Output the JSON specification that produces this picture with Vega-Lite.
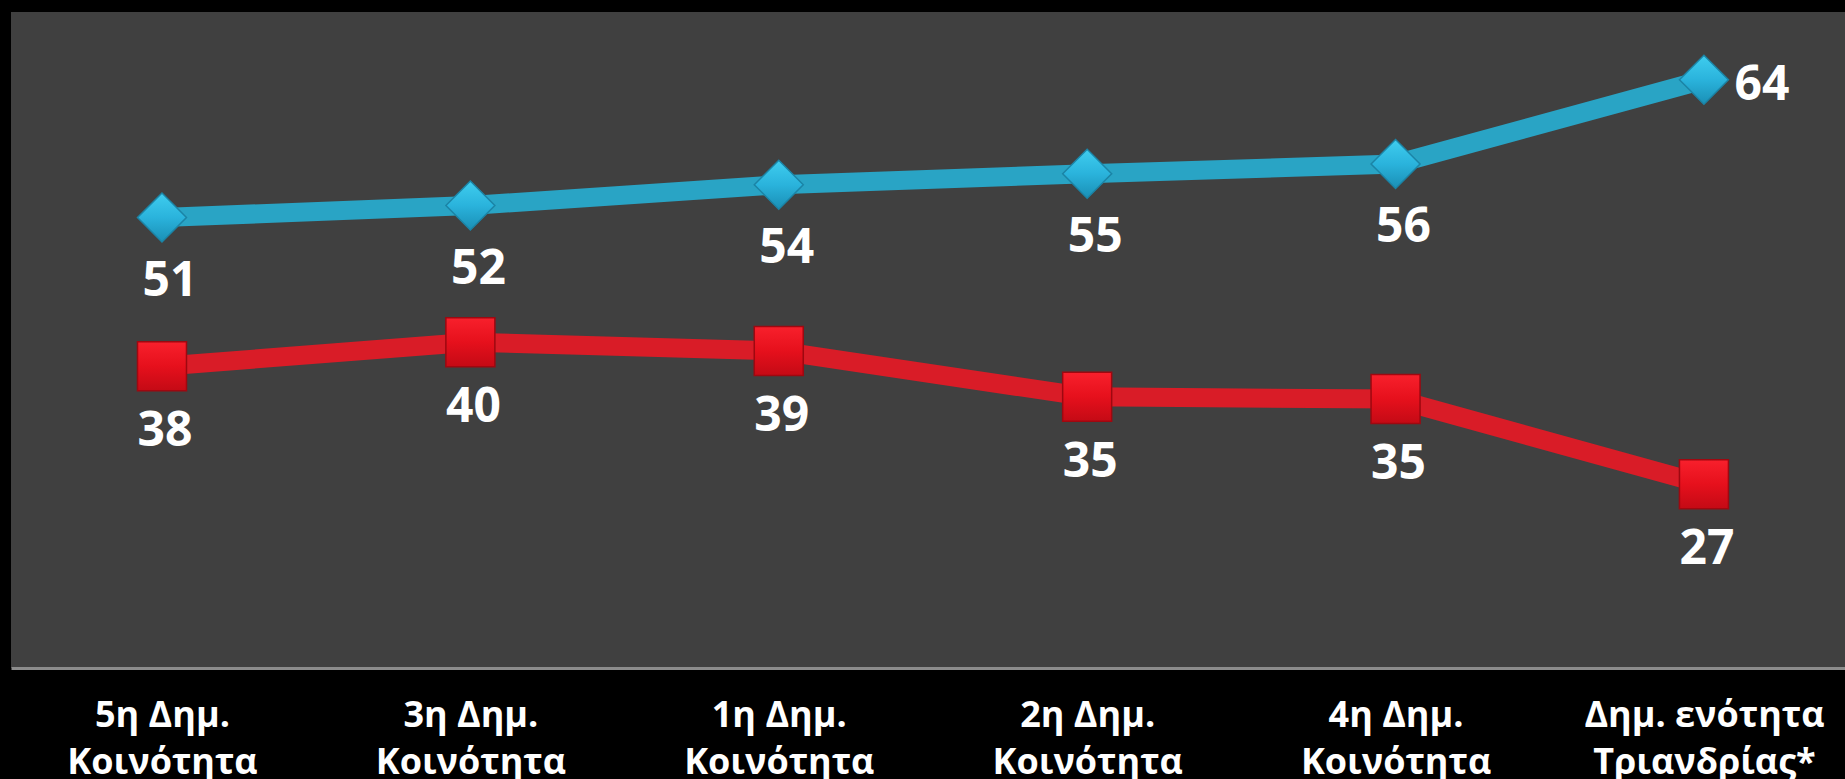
{
  "$schema": "https://vega.github.io/schema/vega-lite/v6.json",
  "width": 1834,
  "height": 656,
  "autosize": {"type": "none"},
  "padding": {"left": 11, "top": 12, "right": 0, "bottom": 111},
  "background": "#000000",
  "config": {
    "view": {"fill": "#404040", "stroke": null},
    "font": "Open Sans"
  },
  "data": {
    "values": [
      {"district": "5η Δημ.\nΚοινότητα", "series": "Σειρά 1", "value": 51.2},
      {"district": "3η Δημ.\nΚοινότητα", "series": "Σειρά 1", "value": 52.3},
      {"district": "1η Δημ.\nΚοινότητα", "series": "Σειρά 1", "value": 54.2},
      {"district": "2η Δημ.\nΚοινότητα", "series": "Σειρά 1", "value": 55.2},
      {"district": "4η Δημ.\nΚοινότητα", "series": "Σειρά 1", "value": 56.1},
      {"district": "Δημ. ενότητα\nΤριανδρίας*", "series": "Σειρά 1", "value": 63.8},
      {"district": "5η Δημ.\nΚοινότητα", "series": "Σειρά 2", "value": 37.6},
      {"district": "3η Δημ.\nΚοινότητα", "series": "Σειρά 2", "value": 39.8},
      {"district": "1η Δημ.\nΚοινότητα", "series": "Σειρά 2", "value": 39.0},
      {"district": "2η Δημ.\nΚοινότητα", "series": "Σειρά 2", "value": 34.8},
      {"district": "4η Δημ.\nΚοινότητα", "series": "Σειρά 2", "value": 34.6},
      {"district": "Δημ. ενότητα\nΤριανδρίας*", "series": "Σειρά 2", "value": 26.8}
    ]
  },
  "encoding": {
    "x": {
      "field": "district",
      "type": "nominal",
      "sort": null,
      "scale": {"type": "point", "padding": 0.4735, "align": 0.517},
      "axis": {
        "title": null,
        "labelAngle": 0,
        "labelExpr": "split(datum.label, '\\n')",
        "labelFont": "Open Sans",
        "labelFontSize": 36,
        "labelFontWeight": "bold",
        "labelColor": "#ffffff",
        "labelLineHeight": 47,
        "labelPadding": 30,
        "labelLimit": 400,
        "ticks": false,
        "grid": false,
        "domainColor": "#8c8c8c",
        "domainWidth": 3
      }
    },
    "y": {
      "field": "value",
      "type": "quantitative",
      "scale": {"domain": [10, 70], "zero": false, "nice": false},
      "axis": null
    }
  },
  "layer": [
    {
      "mark": {"type": "line", "strokeWidth": 19},
      "encoding": {
        "color": {
          "field": "series",
          "type": "nominal",
          "scale": {"domain": ["Σειρά 1", "Σειρά 2"], "range": ["#29A4C5", "#D91C27"]},
          "legend": null
        }
      }
    },
    {
      "transform": [{"filter": "datum.series == 'Σειρά 1'"}],
      "mark": {
        "type": "point",
        "shape": "diamond",
        "size": 2400,
        "filled": true,
        "opacity": 1,
        "fill": {
          "gradient": "linear", "x1": 0, "y1": 0, "x2": 0, "y2": 1,
          "stops": [
            {"offset": 0, "color": "#3FCDEF"},
            {"offset": 0.5, "color": "#2AB3DC"},
            {"offset": 1, "color": "#1A8FB5"}
          ]
        },
        "stroke": "#1B84A6",
        "strokeWidth": 1.5
      }
    },
    {
      "transform": [{"filter": "datum.series == 'Σειρά 2'"}],
      "mark": {
        "type": "point",
        "shape": "square",
        "size": 2400,
        "filled": true,
        "opacity": 1,
        "fill": {
          "gradient": "linear", "x1": 0, "y1": 0, "x2": 0, "y2": 1,
          "stops": [
            {"offset": 0, "color": "#F8202C"},
            {"offset": 0.5, "color": "#E6101C"},
            {"offset": 1, "color": "#C40A15"}
          ]
        },
        "stroke": "#9E0810",
        "strokeWidth": 1.5
      }
    },
    {
      "transform": [{"filter": "datum.series == 'Σειρά 1' && indexof(datum.district, 'Τριανδρίας') < 0"}],
      "mark": {"type": "text", "dy": 64, "dx": 8, "fontSize": 48, "fontWeight": "bold", "color": "#ffffff", "baseline": "middle"},
      "encoding": {"text": {"field": "value", "type": "quantitative", "format": ".0f"}}
    },
    {
      "transform": [{"filter": "datum.series == 'Σειρά 1' && indexof(datum.district, 'Τριανδρίας') >= 0"}],
      "mark": {"type": "text", "dy": 6, "dx": 58, "fontSize": 48, "fontWeight": "bold", "color": "#ffffff", "baseline": "middle"},
      "encoding": {"text": {"field": "value", "type": "quantitative", "format": ".0f"}}
    },
    {
      "transform": [{"filter": "datum.series == 'Σειρά 2'"}],
      "mark": {"type": "text", "dy": 66, "dx": 3, "fontSize": 48, "fontWeight": "bold", "color": "#ffffff", "baseline": "middle"},
      "encoding": {"text": {"field": "value", "type": "quantitative", "format": ".0f"}}
    }
  ]
}
